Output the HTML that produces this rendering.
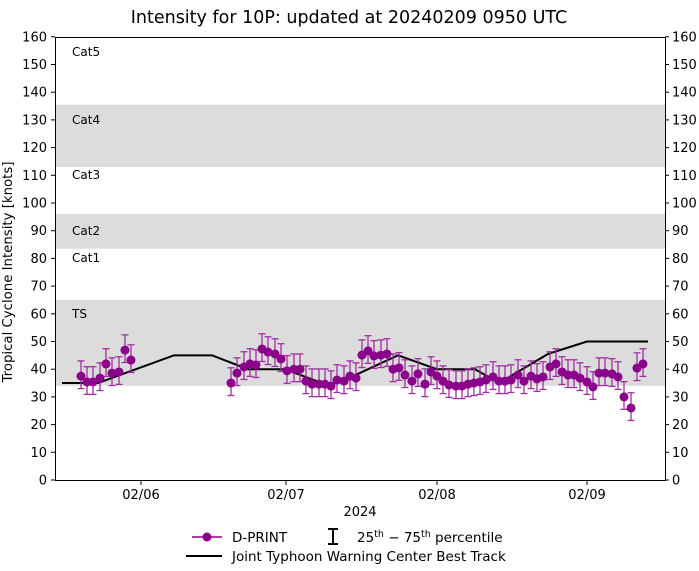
<!DOCTYPE html>
<html><head><meta charset="utf-8"><style>body{margin:0;background:#fff}svg{display:block;font-family:"DejaVu Sans","Liberation Sans",sans-serif}</style></head>
<body>
<svg id="s" width="699" height="571" xmlns="http://www.w3.org/2000/svg">
<rect width="699" height="571" fill="#fff"/>
<g id="bands"></g>
<text x="349" y="23" font-size="17.5" text-anchor="middle" fill="#000">Intensity for 10P: updated at 20240209 0950 UTC</text>
<g font-size="12" fill="#000">
<text x="72" y="56">Cat5</text><text x="72" y="124">Cat4</text><text x="72" y="179">Cat3</text>
<text x="72" y="235">Cat2</text><text x="72" y="262">Cat1</text><text x="72" y="318">TS</text>
</g>
<g id="ax"></g>
<g id="data"></g>
<rect x="55.5" y="37.5" width="610" height="443" fill="none" stroke="#000" stroke-width="1"/>
<text x="360" y="516" font-size="13" text-anchor="middle">2024</text>
<text transform="translate(12,272) rotate(-90)" font-size="13.3" text-anchor="middle">Tropical Cyclone Intensity [knots]</text>
<g font-size="13.5">
<line x1="192" y1="537" x2="222" y2="537" stroke="#8b008b" stroke-width="1.5"/><circle cx="207" cy="537" r="4.5" fill="#8b008b"/>
<text x="232" y="542">D-PRINT</text>
<line x1="333" y1="529" x2="333" y2="544" stroke="#000" stroke-width="2"/><line x1="328" y1="529" x2="338" y2="529" stroke="#000" stroke-width="2"/><line x1="328" y1="544" x2="338" y2="544" stroke="#000" stroke-width="2"/>
<text x="357" y="542">25<tspan font-size="9.5" dy="-5">th</tspan><tspan dy="5"> − 75</tspan><tspan font-size="9.5" dy="-5">th</tspan><tspan dy="5"> percentile</tspan></text>
<line x1="186" y1="556" x2="222" y2="556" stroke="#000" stroke-width="2"/>
<text x="232" y="561">Joint Typhoon Warning Center Best Track</text>
</g>
</svg>
<script>
const Y=v=>480-2.77*v, NS="http://www.w3.org/2000/svg";
function el(p,t,a,txt){const e=document.createElementNS(NS,t);for(const k in a)e.setAttribute(k,a[k]);if(txt!==undefined)e.textContent=txt;document.getElementById(p).appendChild(e);return e;}
[[34,65],[83.5,96],[113,135.5]].forEach(b=>el("bands","rect",{x:55,y:Y(b[1]),width:610,height:Y(b[0])-Y(b[1]),fill:"#dcdcdc"}));
for(let v=0;v<=160;v+=10){const y=Y(v);
el("ax","line",{x1:51,y1:y,x2:55,y2:y,stroke:"#000"});el("ax","line",{x1:665,y1:y,x2:669,y2:y,stroke:"#000"});
el("ax","text",{x:47,y:y+4.5,"font-size":13,"text-anchor":"end"},v);el("ax","text",{x:672,y:y+4.5,"font-size":13},v);}
[[141,"02/06"],[286,"02/07"],[437,"02/08"],[587,"02/09"]].forEach(t=>{el("ax","line",{x1:t[0],y1:480,x2:t[0],y2:485,stroke:"#000"});el("ax","text",{x:t[0],y:499,"font-size":13,"text-anchor":"middle"},t[1]);});
const bt=[[62,35],[98,35],[174,45],[212,45],[248,40],[285,40],[322,35],[338,35],[398,45],[437,40],[475,40],[492,36.5],[506,36.5],[548,45.5],[587,50],[648,50]];
el("data","polyline",{points:bt.map(p=>p[0]+","+Y(p[1])).join(" "),fill:"none",stroke:"#000","stroke-width":2});
const d=[[81,37.5],[87,35.4],[93,35.4],[100,36.8],[106,41.9],[112,38.6],[119,39],[125,46.9],[131,43.3],
[231,35],[237,38.6],[244,40.8],[250,41.9],[256,41.5],[262,47.3],[268,46.2],[275,45.5],[281,43.7],[287,39.4],[294,40],[300,40],[306,35.7],[312,34.6],[319,34.6],[325,34.6],[331,33.9],[337,36.1],[344,35.7],[350,37.5],[356,36.8],
[362,45.1],[368,46.6],[374,44.8],[381,45.1],[387,45.5],[393,40],[399,40.5],[405,37.9],[412,35.7],[418,38.3],[425,34.6],[431,39],[437,37.5],[443,35.7],[449,34.3],[456,33.9],[462,33.9],[468,34.6],[474,35],[480,35.4],[486,36.1],[493,37.2],[499,35.7],[505,35.7],[511,36.1],[518,37.9],[524,35.7],[531,37.5],[537,36.5],[543,37.2],[550,40.8],[556,41.9],[562,39],[568,37.9],[574,37.9],[580,36.8],[587,35.4],[593,33.6],[599,38.6],[605,38.6],[612,38.3],[618,37.2],[624,30],[631,26],[637,40.4],[643,41.9]];
const c="#a030a0";
d.forEach(p=>{const x=p[0],lo=Y(p[1]-4.5),hi=Y(p[1]+5.5);
el("data","line",{x1:x,y1:lo,x2:x,y2:hi,stroke:c,"stroke-width":1.3});
el("data","line",{x1:x-3.5,y1:lo,x2:x+3.5,y2:lo,stroke:c,"stroke-width":1.3});
el("data","line",{x1:x-3.5,y1:hi,x2:x+3.5,y2:hi,stroke:c,"stroke-width":1.3});});
d.forEach(p=>el("data","circle",{cx:p[0],cy:Y(p[1]),r:4.5,fill:"#8b008b"}));
</script>
</body></html>
